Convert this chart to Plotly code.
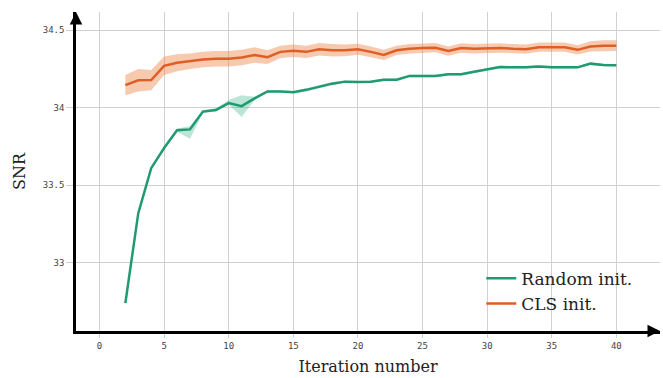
import plotly.graph_objects as go

iters = list(range(2, 41))

random_mean = [32.74, 33.32, 33.61, 33.74, 33.855, 33.86, 33.975, 33.985, 34.03, 34.01,
               34.06, 34.105, 34.105, 34.10, 34.115, 34.135, 34.155, 34.168, 34.165, 34.168,
               34.18, 34.18, 34.205, 34.205, 34.205, 34.215, 34.215, 34.232, 34.247, 34.262,
               34.26, 34.26, 34.265, 34.26, 34.26, 34.26, 34.284, 34.275, 34.273]
random_low = [32.735, 33.31, 33.60, 33.73, 33.845, 33.80, 33.965, 33.975, 34.02, 33.94,
              34.05, 34.098, 34.098, 34.093, 34.105, 34.125, 34.145, 34.16, 34.158, 34.16,
              34.172, 34.172, 34.197, 34.197, 34.197, 34.207, 34.207, 34.224, 34.239, 34.254,
              34.252, 34.252, 34.257, 34.252, 34.252, 34.252, 34.276, 34.267, 34.265]
random_high = [32.745, 33.33, 33.62, 33.75, 33.865, 33.88, 33.985, 33.995, 34.05, 34.08,
               34.07, 34.112, 34.112, 34.107, 34.125, 34.145, 34.165, 34.176, 34.172, 34.176,
               34.188, 34.188, 34.213, 34.213, 34.213, 34.223, 34.223, 34.240, 34.255, 34.270,
               34.268, 34.268, 34.273, 34.268, 34.268, 34.268, 34.292, 34.283, 34.281]

cls_mean = [34.145, 34.177, 34.178, 34.27, 34.29, 34.30, 34.31, 34.315, 34.315, 34.324,
            34.34, 34.326, 34.36, 34.367, 34.36, 34.377, 34.37, 34.37, 34.377, 34.36,
            34.34, 34.37, 34.38, 34.385, 34.387, 34.365, 34.385, 34.38, 34.383, 34.385,
            34.38, 34.377, 34.39, 34.39, 34.39, 34.373, 34.395, 34.40, 34.40]
cls_spread = [0.065, 0.072, 0.065, 0.06, 0.055, 0.05, 0.05, 0.05, 0.05, 0.05,
              0.05, 0.045, 0.04, 0.04, 0.04, 0.04, 0.04, 0.038, 0.035, 0.035,
              0.033, 0.03, 0.03, 0.03, 0.03, 0.03, 0.03, 0.03, 0.03, 0.03,
              0.03, 0.03, 0.03, 0.03, 0.03, 0.03, 0.033, 0.035, 0.035]

x_ticks = [0, 5, 10, 15, 20, 25, 30, 35, 40]
y_ticks = [33, 33.5, 34, 34.5]
y_tick_text = ["33", "33.5", "34", "34.5"]

GREEN = "#1f9a72"
ORANGE = "#de5f25"

cls_low = [m - s for m, s in zip(cls_mean, cls_spread)]
cls_high = [m + s for m, s in zip(cls_mean, cls_spread)]

fig = go.Figure()

# bands
fig.add_trace(go.Scatter(x=iters + iters[::-1], y=cls_high + cls_low[::-1],
                         fill="toself", fillcolor="rgba(238,135,75,0.45)",
                         line=dict(width=0), hoverinfo="skip", showlegend=False))
fig.add_trace(go.Scatter(x=iters + iters[::-1], y=random_high + random_low[::-1],
                         fill="toself", fillcolor="rgba(60,180,140,0.35)",
                         line=dict(width=0), hoverinfo="skip", showlegend=False))

fig.add_trace(go.Scatter(x=iters, y=random_mean, mode="lines", name="Random init.",
                         line=dict(color=GREEN, width=2.5)))
fig.add_trace(go.Scatter(x=iters, y=cls_mean, mode="lines", name="CLS init.",
                         line=dict(color=ORANGE, width=2.5)))

tick_font = dict(family="DejaVu Sans Mono", size=9, color="#444444")
title_font = dict(family="DejaVu Serif", size=16, color="#222222")

fig.update_layout(
    width=663, height=378,
    margin=dict(l=76, r=3, t=12, b=47),
    paper_bgcolor="white", plot_bgcolor="white",
    showlegend=True,
    legend=dict(x=0.694, y=0.22, xanchor="left", yanchor="top",
                bgcolor="rgba(255,255,255,0)", borderwidth=0,
                font=dict(family="DejaVu Serif", size=17, color="#222222"),
                tracegroupgap=0, itemwidth=30),
    xaxis=dict(range=[-1.82, 43.38], tickvals=x_ticks, tickfont=tick_font,
               showgrid=True, gridcolor="#d0d0d0", gridwidth=1,
               showline=True, linecolor="black", linewidth=2.5,
               ticks="outside", ticklen=4, tickcolor="#d0d0d0",
               zeroline=False,
               title=dict(text="Iteration number", font=title_font, standoff=12)),
    yaxis=dict(range=[32.56, 34.617], tickvals=y_ticks, ticktext=y_tick_text,
               tickfont=tick_font,
               showgrid=True, gridcolor="#d0d0d0", gridwidth=1,
               showline=True, linecolor="black", linewidth=2.5,
               ticks="outside", ticklen=7, tickcolor="#d0d0d0",
               zeroline=False,
               title=dict(text="SNR", font=title_font, standoff=14)),
)

# arrowheads at axis ends
fig.add_annotation(x=1.0, y=0, xref="paper", yref="paper", ax=-12, ay=0,
                   showarrow=True, arrowhead=2, arrowsize=1, arrowwidth=2.5,
                   arrowcolor="black", text="")
fig.add_annotation(x=0, y=1.0, xref="paper", yref="paper", ax=0, ay=12,
                   showarrow=True, arrowhead=2, arrowsize=1, arrowwidth=2.5,
                   arrowcolor="black", text="")

fig.write_html("out.html")
